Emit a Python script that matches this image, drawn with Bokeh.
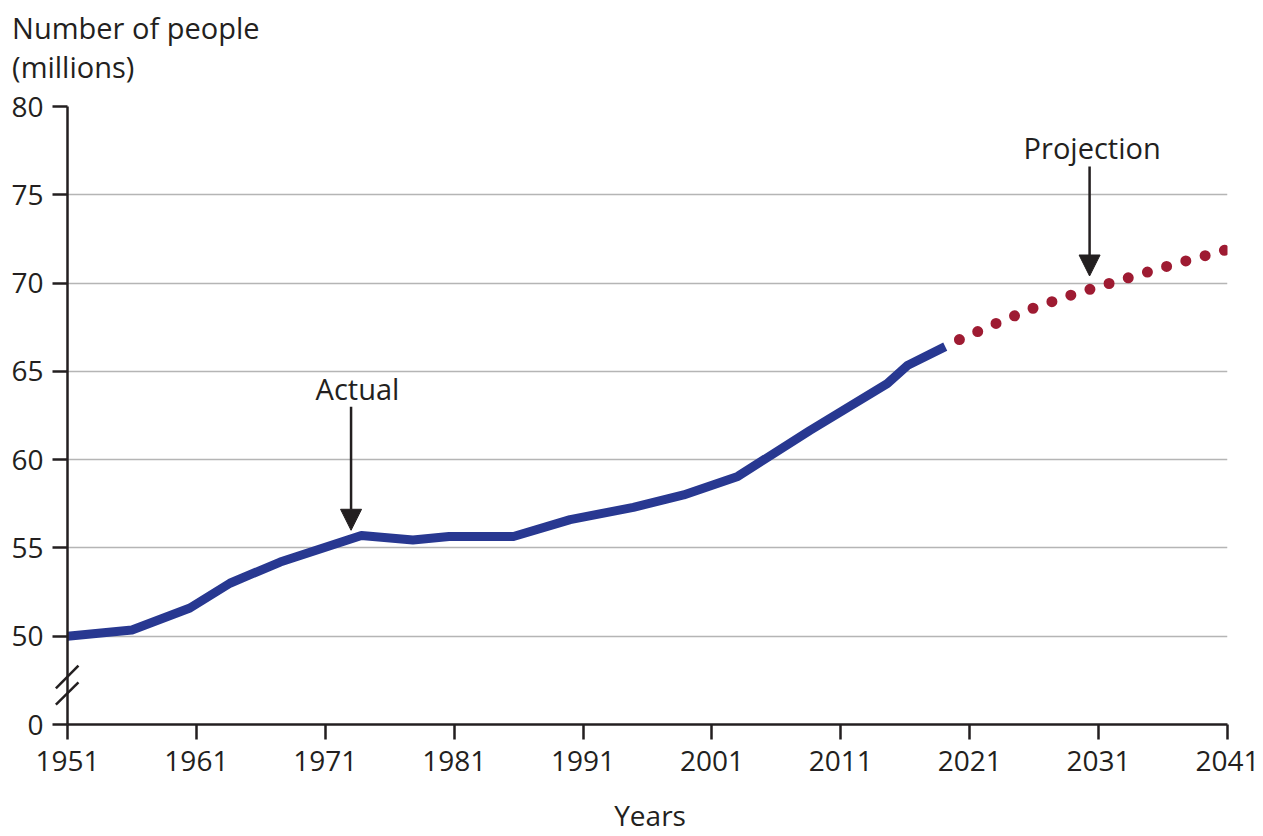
from bokeh.plotting import figure
from bokeh.models import FixedTicker, Label, Arrow, NormalHead, Range1d
from bokeh.core.properties import value
from bokeh.embed import file_html
from bokeh.resources import INLINE

# ---- data ----
actual_years = [1951, 1956, 1960.5, 1963.6, 1967.5, 1973.8, 1977.8, 1980.6, 1985.6,
                1990, 1994.9, 1998.8, 2003, 2008.6, 2014.6, 2016.2, 2019.1]
actual_values = [50.0, 50.35, 51.6, 53.0, 54.2, 55.7, 55.45, 55.65, 55.65,
                 56.6, 57.3, 58.0, 59.05, 61.65, 64.3, 65.35, 66.4]
proj_years = [2020.2, 2023, 2026, 2029, 2031, 2034, 2037, 2041]
proj_values = [66.8, 67.7, 68.6, 69.35, 69.8, 70.45, 71.1, 71.9]

x_ticks = [1951, 1961, 1971, 1981, 1991, 2001, 2011, 2021, 2031, 2041]
y_ticks = [45, 50, 55, 60, 65, 70, 75, 80]          # 45 stands for the broken-axis "0"
y_tick_labels = ["0", "50", "55", "60", "65", "70", "75", "80"]
grid_ticks = [50, 55, 60, 65, 70, 75, 80]

FONT = "Open Sans"
INK = "#231F20"
BLUE = "#283891"
RED = "#9E1B32"

p = figure(width=1260, height=836, output_backend="svg", toolbar_location=None,
           x_range=Range1d(1951, 2041), y_range=Range1d(45, 80),
           min_border_left=67, min_border_right=33, min_border_top=106, min_border_bottom=112)
p.outline_line_color = None
p.background_fill_color = "white"

# axes
for ax in (p.xaxis[0], p.yaxis[0]):
    ax.axis_line_color = INK
    ax.axis_line_width = 2.5
    ax.major_tick_line_color = INK
    ax.major_tick_line_width = 2.5
    ax.major_tick_out = 15
    ax.major_tick_in = 0
    ax.minor_tick_line_color = None
    ax.major_label_text_font = FONT
    ax.major_label_text_font_size = "28px"
    ax.major_label_text_color = INK

p.xaxis.ticker = FixedTicker(ticks=x_ticks)
p.xaxis.major_label_standoff = 11
p.yaxis.ticker = FixedTicker(ticks=y_ticks)
p.yaxis.major_label_overrides = {t: l for t, l in zip(y_ticks, y_tick_labels)}
p.yaxis.major_label_standoff = 9

p.xgrid.grid_line_color = None
p.ygrid.ticker = FixedTicker(ticks=grid_ticks)
p.ygrid.grid_line_color = "#B5B5B5"
p.ygrid.grid_line_width = 1.5

# lines
p.line(x=actual_years, y=actual_values, line_color=BLUE, line_width=9,
       line_join="round", line_cap="butt")
p.line(x=proj_years, y=proj_values, line_color=RED, line_width=11,
       line_dash="0 20", line_cap="round")

# axis break marks (overlay level so they may cross the frame edge)
p.segment(x0=[1951 - 0.9, 1951 - 0.9], y0=[47.04, 46.13],
          x1=[1951 + 0.85, 1951 + 0.85], y1=[48.34, 47.38],
          line_color=INK, line_width=2.5, level="overlay")

# annotation arrows
def pointer(x, y_from, y_to):
    p.add_layout(Arrow(end=NormalHead(size=21, fill_color=INK, line_color=INK, line_width=1),
                       x_start=x, y_start=y_from, x_end=x, y_end=y_to,
                       line_color=INK, line_width=2.5))

pointer(1973.0, 63.0, 56.0)
pointer(2030.3, 76.6, 70.4)

def txt(x, y, s):
    p.add_layout(Label(x=x, y=y, text=s, text_font=FONT, text_font_size="29px",
                       text_color=INK, text_align="center", text_baseline="middle"))

txt(1973.5, 64.05, "Actual")
txt(2030.5, 77.65, "Projection")

# texts outside the frame, drawn as overlay-level text glyphs
p.text(x=[1946.7, 1946.7], y=[84.45, 82.25], text=["Number of people", "(millions)"],
       text_font=value(FONT), text_font_size="29px", text_color=INK,
       text_align="left", text_baseline="middle", level="overlay")
p.text(x=[1996.2], y=[39.9], text=["Years"],
       text_font=value(FONT), text_font_size="28px", text_color=INK,
       text_align="center", text_baseline="middle", level="overlay")

open("out.html", "w").write(file_html(p, INLINE))
